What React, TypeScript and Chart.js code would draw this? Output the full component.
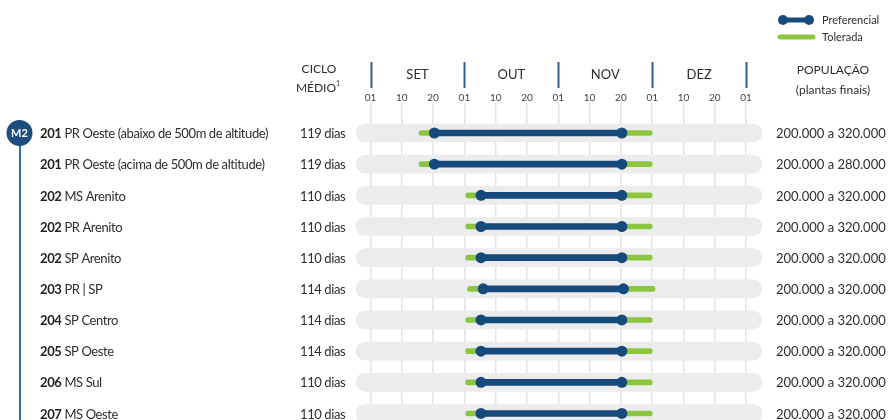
import React, { useEffect, useRef } from 'react';
import { Chart, registerables } from 'chart.js';

Chart.register(...registerables);

// ---- data ----
const groupLabel = 'M2';
const codes = ['201', '201', '202', '202', '202', '203', '204', '205', '206', '207'];
const regions = [
  'PR Oeste (abaixo de 500m de altitude)',
  'PR Oeste (acima de 500m de altitude)',
  'MS Arenito',
  'PR Arenito',
  'SP Arenito',
  'PR | SP',
  'SP Centro',
  'SP Oeste',
  'MS Sul',
  'MS Oeste',
];
const cycleDays = ['119 dias', '119 dias', '110 dias', '110 dias', '110 dias', '114 dias', '114 dias', '114 dias', '110 dias', '110 dias'];
const populations = [
  '200.000 a 320.000',
  '200.000 a 280.000',
  '200.000 a 320.000',
  '200.000 a 320.000',
  '200.000 a 320.000',
  '200.000 a 320.000',
  '200.000 a 320.000',
  '200.000 a 320.000',
  '200.000 a 320.000',
  '200.000 a 320.000',
];
// positions on the decendial axis (0 = 01 SET, 1 = 10 SET, 2 = 20 SET, 3 = 01 OUT ...)
const tolStart = [1.55, 1.55, 3.04, 3.04, 3.04, 3.1, 3.04, 3.04, 3.04, 3.04];
const tolEnd = [9.0, 9.0, 9.0, 9.0, 9.0, 9.09, 9.0, 9.0, 9.0, 9.0];
const prefStart = [2.04, 2.04, 3.53, 3.53, 3.53, 3.6, 3.53, 3.53, 3.53, 3.53];
const prefEnd = [8.03, 8.03, 8.03, 8.03, 8.03, 8.08, 8.03, 8.03, 8.03, 8.03];
const backgroundRange = [-0.46, 12.5];
const tickValues = [0, 1, 2, 3, 4, 5, 6, 7, 8, 9, 10, 11, 12];
const tickLabels = ['01', '10', '20', '01', '10', '20', '01', '10', '20', '01', '10', '20', '01'];
const monthNames = ['SET', 'OUT', 'NOV', 'DEZ'];
const monthBoundaries = [0, 3, 6, 9, 12];
const rowIndex = [0, 1, 2, 3, 4, 5, 6, 7, 8, 9];

const BLUE = '#174a7c';
const GREEN = '#8cc63f';
const GRAY = '#ececec';
const TEXT = '#2e2e2e';
const FONT = 'Lato';

const overlayPlugin = {
  id: 'overlay',
  afterDraw(chart: any) {
    const ctx: CanvasRenderingContext2D = chart.ctx;
    const xs = chart.scales.x;
    const ys = chart.scales.y;
    ctx.save();

    // ---- legend ----
    ctx.lineCap = 'round';
    ctx.strokeStyle = BLUE;
    ctx.lineWidth = 5;
    ctx.beginPath();
    ctx.moveTo(783, 20);
    ctx.lineTo(809, 20);
    ctx.stroke();
    ctx.fillStyle = BLUE;
    [783, 809].forEach((cx) => {
      ctx.beginPath();
      ctx.arc(cx, 20, 5, 0, Math.PI * 2);
      ctx.fill();
    });
    ctx.strokeStyle = GREEN;
    ctx.beginPath();
    ctx.moveTo(780, 37);
    ctx.lineTo(813, 37);
    ctx.stroke();
    ctx.fillStyle = TEXT;
    ctx.font = `11px ${FONT}`;
    ctx.textAlign = 'left';
    ctx.textBaseline = 'middle';
    ctx.fillText('Preferencial', 822, 20);
    ctx.fillText('Tolerada', 822, 37);

    // ---- header ----
    ctx.textAlign = 'center';
    ctx.font = `12px ${FONT}`;
    ctx.fillText('CICLO', 319, 69);
    ctx.fillText('MÉDIO', 316, 88);
    ctx.font = `7px ${FONT}`;
    ctx.fillText('1', 338, 84);
    ctx.font = `12px ${FONT}`;
    ctx.fillText('POPULAÇÃO', 833, 70);
    ctx.fillText('(plantas finais)', 833, 90);

    // month separators
    ctx.strokeStyle = '#2f5f8f';
    ctx.lineWidth = 2;
    ctx.lineCap = 'butt';
    monthBoundaries.forEach((v) => {
      const px = Math.round(xs.getPixelForValue(v)) + 0.5;
      ctx.beginPath();
      ctx.moveTo(px, 62);
      ctx.lineTo(px, 88);
      ctx.stroke();
    });
    // month names
    ctx.font = `13px ${FONT}`;
    ctx.fillStyle = TEXT;
    monthNames.forEach((m, i) => {
      const a = xs.getPixelForValue(monthBoundaries[i]);
      const b = xs.getPixelForValue(monthBoundaries[i + 1]);
      ctx.fillText(m, (a + b) / 2, 75);
    });
    // day tick labels
    ctx.font = `10px ${FONT}`;
    ctx.fillStyle = '#444';
    tickValues.forEach((v, i) => {
      ctx.fillText(tickLabels[i], xs.getPixelForValue(v), 98);
    });

    // ---- group badge & line ----
    const y0 = ys.getPixelForValue(rowIndex[0]);
    ctx.strokeStyle = '#2f6db0';
    ctx.lineWidth = 2;
    ctx.beginPath();
    ctx.moveTo(20, y0);
    ctx.lineTo(20, 420);
    ctx.stroke();
    ctx.fillStyle = '#1b4d80';
    ctx.beginPath();
    ctx.arc(19.5, y0, 13, 0, Math.PI * 2);
    ctx.fill();
    ctx.fillStyle = '#ffffff';
    ctx.font = `bold 11px ${FONT}`;
    ctx.textAlign = 'center';
    ctx.fillText(groupLabel, 19.5, y0 + 0.5);

    // ---- row texts ----
    rowIndex.forEach((r) => {
      const py = ys.getPixelForValue(r) + 1;
      ctx.textAlign = 'left';
      ctx.fillStyle = '#1f1f1f';
      (ctx as any).letterSpacing = '-0.4px';
      ctx.font = `bold 13px ${FONT}`;
      ctx.fillText(codes[r], 40, py);
      const w = ctx.measureText(codes[r]).width;
      ctx.font = `13px ${FONT}`;
      ctx.fillStyle = TEXT;
      ctx.fillText(regions[r], 40 + w + 3, py);
      ctx.fillText(cycleDays[r], 300, py);
      (ctx as any).letterSpacing = '0px';
      ctx.font = `13px ${FONT}`;
      ctx.fillText(populations[r], 776, py);
    });

    ctx.restore();
  },
};

export default function App() {
  const canvasRef = useRef<HTMLCanvasElement | null>(null);

  useEffect(() => {
    if (!canvasRef.current) return;
    const bgData = rowIndex.map((r) => ({ x: [backgroundRange[0], backgroundRange[1]], y: r }));
    const tolData = rowIndex.map((r) => ({ x: [tolStart[r], tolEnd[r]], y: r }));
    const prefData = rowIndex.map((r) => ({ x: [prefStart[r], prefEnd[r]], y: r }));
    const dotData = [
      ...rowIndex.map((r) => ({ x: prefStart[r], y: r })),
      ...rowIndex.map((r) => ({ x: prefEnd[r], y: r })),
    ];

    const chart = new Chart(canvasRef.current, {
      type: 'bar',
      data: {
        datasets: [
          {
            type: 'bar',
            label: 'fundo',
            data: bgData as any,
            indexAxis: 'y',
            backgroundColor: GRAY,
            barThickness: 18,
            borderRadius: 9,
            borderSkipped: false,
            grouped: false,
            order: 4,
          } as any,
          {
            type: 'bar',
            label: 'Tolerada',
            data: tolData as any,
            indexAxis: 'y',
            backgroundColor: GREEN,
            barThickness: 5,
            borderRadius: 2.5,
            borderSkipped: false,
            grouped: false,
            order: 3,
          } as any,
          {
            type: 'bar',
            label: 'Preferencial',
            data: prefData as any,
            indexAxis: 'y',
            backgroundColor: BLUE,
            barThickness: 6,
            borderRadius: 0,
            borderSkipped: false,
            grouped: false,
            order: 2,
          } as any,
          {
            type: 'scatter',
            label: 'Preferencial pontos',
            data: dotData as any,
            backgroundColor: BLUE,
            borderWidth: 0,
            pointRadius: 5.5,
            order: 1,
          } as any,
        ],
      },
      options: {
        animation: false,
        responsive: false,
        maintainAspectRatio: false,
        layout: { autoPadding: false, padding: { left: 354.85, right: 124.1, top: 103, bottom: 0 } },
        plugins: {
          legend: { display: false },
          tooltip: { enabled: false },
        },
        scales: {
          x: {
            type: 'linear',
            min: -0.5,
            max: 12.6,
            offset: false,
            display: true,
            afterBuildTicks: (axis: any) => {
              axis.ticks = tickValues.map((v) => ({ value: v }));
            },
            ticks: { display: false },
            grid: { color: '#e4e4e4', lineWidth: 1.5, drawTicks: false, offset: false },
            border: { display: false },
          },
          y: {
            type: 'linear',
            min: -0.963,
            max: 9.21,
            offset: false,
            reverse: true,
            display: false,
            grid: { offset: false },
          },
        },
      },
      plugins: [overlayPlugin],
    } as any);

    return () => chart.destroy();
  }, []);

  return (
    <div style={{ position: 'fixed', left: 0, top: 0, width: 889, height: 420, background: '#ffffff' }}>
      <canvas ref={canvasRef} width={889} height={420} style={{ width: 889, height: 420, display: 'block' }} />
    </div>
  );
}
